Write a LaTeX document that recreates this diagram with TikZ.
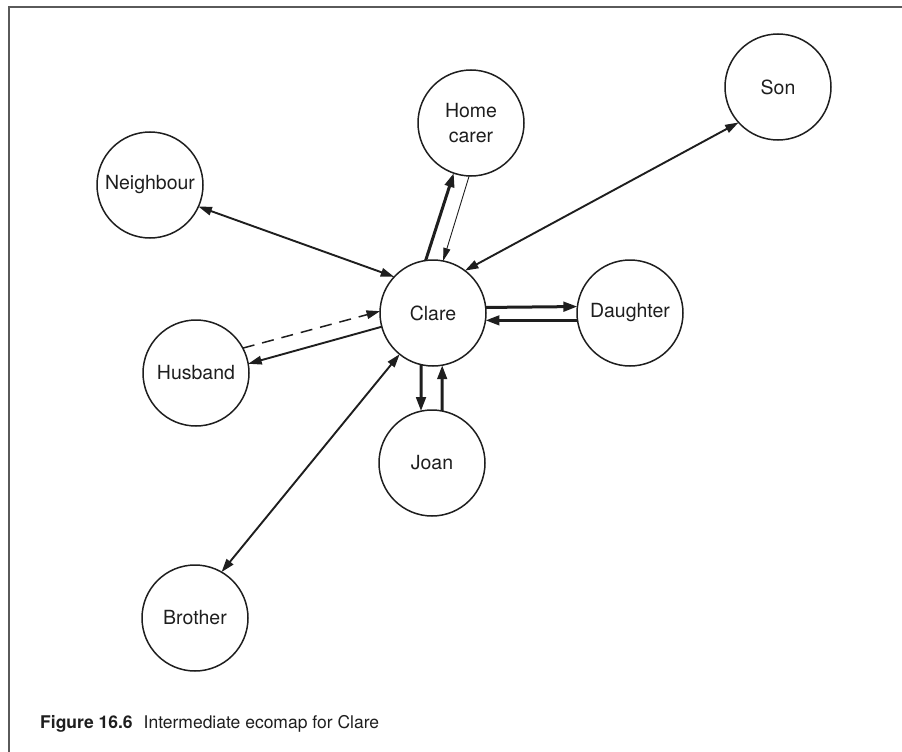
\documentclass[tikz,border=0pt]{standalone}
\usepackage{fontspec}
\setmainfont{TeX Gyre Heros}
\usetikzlibrary{arrows.meta}
\definecolor{ink}{HTML}{1E1E1E}
\definecolor{framegray}{HTML}{5A5A5A}
\tikzset{
  person/.style={circle, draw=ink, line width=1.5pt, minimum size=106pt,
    inner sep=0pt, outer sep=0pt, text=ink, align=center,
    font=\fontsize{19.5}{25}\selectfont},
  tip/.tip={Triangle[length=13.5pt,width=8.5pt]},
  bigtip/.tip={Triangle[length=14pt,width=9.5pt]},
  mutual/.style={draw=ink, line width=1.9pt, tip-tip},
  oneway/.style={draw=ink, line width=1.9pt, -tip},
  strongtie/.style={draw=ink, line width=3pt, -bigtip},
  weaktie/.style={draw=ink, line width=0.9pt, -{Triangle[length=13pt,width=7pt]}},
  stressed/.style={draw=ink, line width=1.5pt, dash pattern=on 12pt off 8pt, -tip}
}
\begin{document}
\begin{tikzpicture}[x=1pt, y=-1pt]
  \useasboundingbox (0,0) rectangle (902,752);
  % frame: top and left rules
  \draw[framegray, line width=2pt] (9,752) -- (9,7.5) -- (902,7.5);

  % people
  \node[person] (clare)     at (433,313) {Clare};
  \node[person] (carer)     at (471,123) {Home\\carer};
  \node[person] (son)       at (778,87)  {Son};
  \node[person] (neighbour) at (150,185) {Neighbour};
  \node[person] (daughter)  at (630,313) {Daughter};
  \node[person] (husband)   at (196,373) {Husband};
  \node[person] (joan)      at (432,463) {Joan};
  \node[person] (brother)   at (195,618) {Brother};

  % connections
  \draw[mutual] (neighbour.-24) -- (clare.137);
  \draw[strongtie] (clare.98) -- (carer.-109);
  \draw[weaktie] (carer.-92) -- (clare.79);
  \draw[mutual] (clare.53) -- (son.222);
  \draw[strongtie] (clare.6.5) -- (daughter.173.5);
  \draw[strongtie] (daughter.188.7) -- (clare.-8.7);
  \draw[strongtie] (clare.-103) -- (joan.102);
  \draw[strongtie] (joan.79) -- (clare.-80);
  \draw[stressed] (husband.28) -- (clare.178);
  \draw[oneway] (clare.195) -- (husband.10.5);
  \draw[mutual] (clare.231) -- (brother.60);

  % caption
  \node[anchor=base west, inner sep=0pt, text=ink, font=\fontsize{17.5}{20}\selectfont]
    (caption) at (40,728) {\textbf{Figure 16.6}\hspace{11pt}Intermediate ecomap for Clare};
\end{tikzpicture}
\end{document}
